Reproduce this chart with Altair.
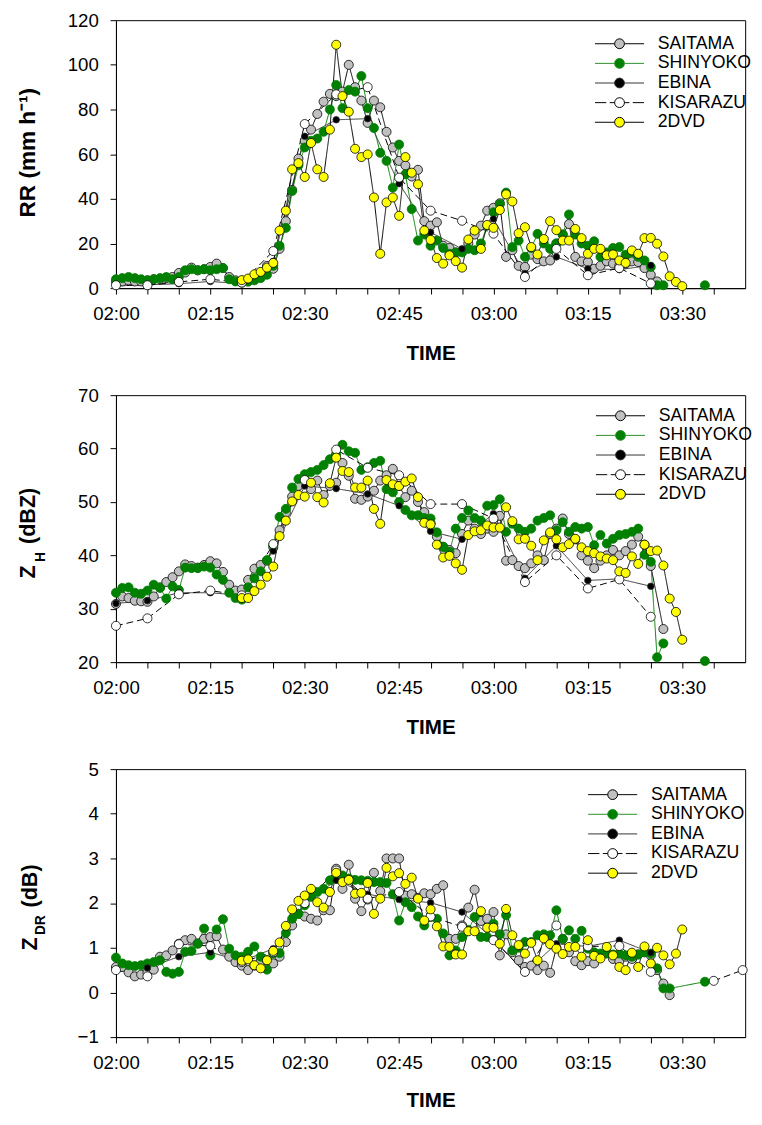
import altair as alt
import pandas as pd

FONT = "Liberation Sans, Arial, Helvetica, sans-serif"

SERIES = ["SAITAMA", "SHINYOKO", "EBINA", "KISARAZU", "2DVD"]
FILLS = ["#c0c0c0", "#008000", "#000000", "#ffffff", "#ffff00"]
STROKES = ["#000000", "#008000", "#333333", "#000000", "#000000"]
DASHES = [[1, 0], [1, 0], [1, 0], [7, 4], [1, 0]]

# times in minutes after 02:00
T5 = list(range(0, 86, 5))
SHINYOKO_LATE_T = [93.6]
KISARAZU_ZDR_T = T5 + [95, 99.6]

# ---------------- RR (mm h-1) ----------------
RR_SAITAMA = [3, 3, 3.5, 3, 3, 3.5, 4, 4, 4.5, 5,
              6.8, 7, 9.2, 8, 8.5, 9.5, 11, 9, 5, 3.5,
              3, 3, 4, 6, 10, 8.7, 17.6, 30, 44, 58,
              66, 71, 78, 83.5, 87, 86, 88, 100, 90, 84,
              74, 84, 81, 70, 63, 57, 55, 50, 53, 30,
              28, 29.5, 19, 18, 16, 16.6, 20, 24, 28, 34.7,
              36, 38, 14, 17, 10, 9.5, 15, 13, 12, 12.4,
              20, 24, 28.7, 14, 12, 11.7, 8.7, 10, 12, 11,
              10, 11, 12, 11.7, 9, 6, 3]
RR_SHINYOKO = [4, 4.5, 5, 4.5, 4, 3.5, 4, 4.5, 5, 4,
               5, 8, 8.5, 8, 8.5, 8, 8.5, 9, 4, 3,
               2.5, 3, 3.5, 4.5, 6, 10, 19, 27, 43.5, 55,
               63, 66, 67, 70, 80, 91, 80.6, 88.7, 88, 95,
               80.6, 71.7, 60.6, 57, 45, 64.3, 51, 35.4, 21.3, 24,
               19, 21.3, 18, 15.4, 16, 16, 17.6, 17, 20, 28,
               34, 37.6, 42.8, 18.4, 21.3, 14, 18, 24.3, 20, 17.6,
               20, 24, 33, 24, 20, 19, 21, 14, 16, 18,
               18.4, 15, 16, 14, 12.4, 9.5, 1.3, 1.3]
RR_SHINYOKO_LATE = [1.3]
RR_EBINA = [1, 1.5, 2, 3, 2, 12, 68, 75.4, 75.9, 46.8, 25, 17.6, 31, 6.5, 14, 8.7, 8.3, 10.2]
RR_KISARAZU = [1.3, 1.3, 2.8, 4, 2.5, 16.6, 73.5, 86.8, 90, 49.5, 34.7, 30.2, 24.4, 5, 17.6, 5.8, 9, 2.1]
RR_2DVD = [3.6, 4.3, 6.2, 7.3, 9.2, 11.3, 25.8, 34.7, 53.2, 56,
           49.8, 65, 53.2, 49.8, 71, 109, 86, 79, 62.4, 58.7,
           59.9, 40.6, 15.4, 38.4, 40.6, 32.4, 58.7, 51.7, 46.5, 25.8,
           21.6, 13.5, 11, 14.7, 12.1, 9.2, 21.8, 25.8, 17.6, 28.3,
           27, 35, 42, 38.8, 24.6, 27.3, 18.4, 15.1, 22, 30,
           26, 21.3, 21.3, 26.5, 22.4, 15.4, 17.6, 17.6, 14.7, 15.1,
           12.4, 11.3, 16.9, 15.4, 22.4, 22.5, 19.9, 14.2, 5.3, 2.8,
           0.9]

# ---------------- ZH (dBZ) ----------------
ZH_SAITAMA = [30.9, 32.3, 32, 31.5, 31.4, 31.3, 32.3, 34, 35, 35.9,
              37, 38.3, 38, 37.7, 38.2, 38.9, 38.5, 36.9, 34.5, 33.4,
              33.6, 35.4, 37.5, 38.2, 39, 41.5, 44.7, 48, 51, 53,
              54.3, 52.4, 54, 51.3, 53, 53.6, 57.3, 54.9, 50.6, 50.4,
              51, 52.1, 54, 55, 56.2, 53, 50.9, 52.1, 50, 48.1,
              46, 43.5, 41.6, 41, 40.4, 44, 46.5, 45, 44, 45,
              44.4, 47.4, 39, 39.1, 38, 37.6, 38.5, 40, 39.1, 44,
              45, 46.9, 44, 43, 40, 39, 37.6, 39, 40, 41,
              40, 40.8, 42, 43.5, 42, 38, None, 26.2]
ZH_SHINYOKO = [33, 33.9, 34, 33, 32.8, 33.4, 34.5, 33.9, 31.9, 34.2,
               33.5, 37.7, 37.6, 37.6, 37.9, 37.7, 36.4, 35.4, 33, 32,
               31.7, 34, 35.7, 37, 39.1, 41.9, 47.2, 48.7, 52.7, 54.3,
               55.2, 55.6, 56, 56.9, 58, 59, 60.7, 59.5, 59.2, 56,
               56.5, 57.3, 57.7, 52.4, 51.8, 50, 48.5, 47.5, 47.5, 47,
               46.9, 44.3, 41.6, 40.7, 45, 47, 48.4, 47, 46.5, 49.3,
               49.4, 50.5, 44.4, 45.9, 45, 44.4, 45, 46.5, 47, 47.5,
               44.7, 46.2, 44.4, 45.3, 45, 45.3, 41.9, 43.8, 42.2, 43.1,
               43.8, 44, 44.4, 45, 40.1, 38.8, 20.9, 23.5]
ZH_SHINYOKO_LATE = [20.2]
ZH_EBINA = [31, 31.5, 33, 33, 32.5, 40.8, 53, 52.5, 51.5, 49.3, 44.5, 43, 47.8, 35.7, 41.8, 35.3, 35.6, 34.2]
ZH_KISARAZU = [26.8, 28.2, 32.7, 33.4, 32.5, 42.1, 54.1, 59.8, 56.4, 55, 49.6, 49.6, 46.9, 35, 40, 33.8, 35.5, 28.5]
ZH_2DVD = [32, 32, 33.3, 34.5, 36, 37.9, 43.6, 46.5, 50.1, 51.3,
           51, 53.6, 50.9, 49.9, 53.5, 58.3, 55.8, 55.6, 52.7, 52.7,
           54, 48.7, 45.9, 54.1, 53.3, 53, 53.8, 54.4, 50.9, 46.1,
           45.8, 42, 39.6, 39.9, 38.5, 37.3, 43.8, 44.5, 44.7, 45.6,
           45.2, 45.2, 49, 46.4, 43, 43.1, 41.8, 39.1, 42.8, 44.3,
           43, 41.5, 42.1, 43.1, 41.5, 40.8, 40.4, 39.8, 39.4, 39.1,
           37, 36.7, 39.8, 38.4, 42, 40.8, 40.9, 38.1, 31.9, 29.4,
           24.2]

# ---------------- ZDR (dB) ----------------
ZDR_SAITAMA = [0.57, 0.57, 0.45, 0.36, 0.4, 0.45, 0.51, 0.8, 0.83, 0.94,
               1.09, 1.17, 1.2, 1.1, 1.2, 1.24, 1.26, 0.96, 0.8, 0.68,
               0.6, 0.5, 0.6, 0.7, 0.72, 0.65, 0.8, 1.13, 1.5, 1.76,
               1.7, 1.65, 1.61, 1.84, 1.84, 2.77, 2.32, 2.86, 2.1, 1.82,
               2.08, 2.68, 2.27, 3.0, 3.0, 3.0, 2.17, 2.2, 2.12, 2.22,
               2.2, 2.32, 2.4, 1.2, 1.2, 1.5, 1.9, 2.3, 1.6, 1.65,
               1.8, 0.83, 1.3, 0.9, 0.72, 0.57, 0.6, 0.5, 0.6, 0.44,
               1.0, 1.2, 0.9, 0.7, 0.61, 0.7, 0.65, 0.8, 0.9, 0.75,
               0.7, 0.8, 0.75, 0.85, 0.9, 0.83, 0.5, 0.2, -0.06]
ZDR_SHINYOKO = [0.78, 0.65, 0.61, 0.59, 0.61, 0.65, 0.68, 0.72, 0.46, 0.42,
                0.46, 0.91, 0.93, 1.09, 1.43, 0.83, 1.41, 1.64, 0.98, 0.83,
                0.8, 0.91, 1.03, 0.8, 0.51, 0.87, 0.88, 1.33, 1.65, 1.76,
                1.95, 2.14, 2.25, 2.32, 2.51, 2.55, 2.62, 2.55, 2.52, 2.51,
                2.5, 2.47, 2.47, 2.45, 2.2, 1.61, 2.02, 1.91, 1.7, 1.5,
                1.69, 1.65, 1.32, 0.83, 0.94, 1.24, 1.4, 1.69, 1.24, 1.24,
                1.54, 1.3, 1.73, 0.94, 1.0, 1.13, 1.13, 1.28, 1.3, 1.28,
                1.84, 1.2, 1.39, 1.2, 1.38, 0.98, 0.9, 0.87, 0.87, 0.85,
                0.87, 0.83, 0.8, 0.85, 0.9, 0.87, 0.54, 0.09, 0.09]
ZDR_SHINYOKO_LATE = [0.24]
ZDR_EBINA = [0.5, 0.55, 0.8, 0.9, 0.7, 0.98, 2.0, 2.51, 2.2, 2.08, 2.01, 1.8, 1.2, 0.44, 1.09, 1.03, 1.17, 0.89]
ZDR_KISARAZU = [0.5, 0.36, 1.08, 1.04, 0.68, 0.9, 2.0, 2.73, 2.1, 2.25, 1.7, 1.47, 1.17, 0.46, 1.5, 1.03, 1.04, 0.46,
                0.26, 0.5]
ZDR_2DVD = [0.71, 0.74, 0.61, 0.54, 0.72, 0.93, 1.12, 1.49, 1.86, 2.05,
            2.17, 2.32, 2.02, 1.9, 2.25, 2.68, 2.47, 2.52, 2.21, 2.23,
            2.45, 1.76, 2.1, 2.79, 2.6, 2.67, 2.43, 2.57, 2.1, 1.61,
            1.86, 1.48, 1.03, 1.02, 0.85, 0.85, 1.37, 1.37, 1.82, 1.45,
            1.45, 1.09, 1.87, 1.28, 1.06, 0.87, 1.11, 0.72, 1.21, 1.08,
            0.98, 0.86, 1.02, 1.02, 0.8, 1.17, 0.82, 0.76, 1.02, 0.83,
            0.57, 0.5, 0.89, 0.57, 1.03, 0.65, 1.0, 0.83, 0.63, 0.87,
            1.41]


def one_min(start, values):
    return [start + i for i in range(len(values))]


def rows(series, times, values, order):
    out = []
    seg = 0
    prev = None
    for t, v in zip(times, values):
        if v is None:
            continue
        if prev is not None and t - prev > 6:
            seg += 1
        out.append({"t": t, "v": v, "series": series, "seg": f"{series}-{seg}", "k": order})
        prev = t
    return out


def build(sai, shi, shi_late, ebi, kis, kis_t, dvd):
    r = []
    r += rows("SAITAMA", one_min(0, sai), sai, 0)
    r += rows("SHINYOKO", one_min(0, shi) + SHINYOKO_LATE_T, shi + shi_late, 1)
    r += rows("EBINA", T5, ebi, 2)
    r += rows("KISARAZU", kis_t, kis, 3)
    r += rows("2DVD", one_min(20, dvd), dvd, 4)
    return pd.DataFrame(r)


SOLID = "M-5,0L-1,0M1,0L5,0M1,0A1,1,0,1,1,-1,0A1,1,0,1,1,1,0Z"
DASHED = "M-5,0L-2.7,0M-2,0L-1,0M1,0L2,0M2.7,0L5,0M1,0A1,1,0,1,1,-1,0A1,1,0,1,1,1,0Z"

X_LABEL = ("datum.value % 15 === 0 ? ('0' + (2 + floor(datum.value / 60)) + ':' + "
           "(datum.value % 60 < 10 ? '0' : '') + (datum.value % 60)) : ''")

# stroke scales use the series in reverse order so that their (hidden) legends
# are not merged with the fill legend
SERIES_R = SERIES[::-1]
STROKES_R = STROKES[::-1]
DASHES_R = DASHES[::-1]


def title_layer(text, dx, dy, size):
    return alt.Chart(alt.Data(values=[{"label": text}])).mark_text(
        angle=270, font=FONT, fontSize=size, fontWeight="bold",
        align="center", baseline="middle", color="black"
    ).encode(text="label:N", x=alt.value(dx), y=alt.value(dy))


def panel(df, ydom, yvals, height, titles, lx, ly, title_pad):
    x = alt.X("t:Q", scale=alt.Scale(domain=[0, 100], nice=False, zero=False),
              axis=alt.Axis(values=list(range(0, 100, 5)), labelExpr=X_LABEL, title="TIME",
                            labelFontSize=19, titleFontSize=21, titleFontWeight="bold",
                            labelPadding=11, titlePadding=title_pad, tickSize=6, labelFlush=False,
                            labelOverlap=False))
    y = alt.Y("v:Q", scale=alt.Scale(domain=ydom, nice=False, zero=False),
              axis=alt.Axis(values=yvals, title=None, labelFontSize=19, labelPadding=12,
                            tickSize=6, labelFlush=False))
    base = alt.Chart(df)
    stroke = alt.Stroke("series:N", scale=alt.Scale(domain=SERIES_R, range=STROKES_R), legend=None)
    lines = base.mark_line(strokeWidth=1).encode(
        x=x, y=y, stroke=stroke,
        strokeDash=alt.StrokeDash("series:N", scale=alt.Scale(domain=SERIES_R, range=DASHES_R), legend=None),
        detail="seg:N",
    )
    legend = alt.Legend(
        title=None, orient="none", legendX=lx, legendY=ly,
        labelFont=FONT, labelFontSize=18, labelColor="black", labelOffset=30,
        symbolSize=100, symbolStrokeWidth=1, rowPadding=2, labelLimit=300,
        symbolType=alt.ExprRef(expr=f"datum.value === 'KISARAZU' ? '{DASHED}' : '{SOLID}'"),
        symbolStrokeColor=alt.ExprRef(
            expr="datum.value === 'SHINYOKO' ? '#2a8f2a' : (datum.value === 'EBINA' ? '#333333' : '#000000')"),
    )
    points = base.mark_point(shape="circle", filled=True, opacity=1, strokeWidth=0.8).encode(
        x=x, y=y,
        fill=alt.Fill("series:N", scale=alt.Scale(domain=SERIES, range=FILLS), legend=legend),
        stroke=stroke,
        size=alt.condition("datum.series === 'EBINA'", alt.value(45), alt.value(85)),
    )
    layers = [lines, points] + [title_layer(*t) for t in titles]
    return alt.layer(*layers).properties(width=641, height=height)


df_rr = build(RR_SAITAMA, RR_SHINYOKO, RR_SHINYOKO_LATE, RR_EBINA, RR_KISARAZU, T5, RR_2DVD)
df_zh = build(ZH_SAITAMA, ZH_SHINYOKO, ZH_SHINYOKO_LATE, ZH_EBINA, ZH_KISARAZU, T5, ZH_2DVD)
df_zdr = build(ZDR_SAITAMA, ZDR_SHINYOKO, ZDR_SHINYOKO_LATE, ZDR_EBINA, ZDR_KISARAZU, KISARAZU_ZDR_T, ZDR_2DVD)

p1 = panel(df_rr, [0, 120], list(range(0, 121, 20)), 273,
           [("RR (mm h\u207b\u00b9)", -89, 135, 23)], 504, 15, 20)
p2 = panel(df_zh, [20, 70], list(range(20, 71, 10)), 272,
           [("Z", -89, 180, 22), ("H", -76, 165, 14), ("(dBZ)", -89, 123, 22)], 505, 12, 20)
p3 = panel(df_zdr, [-1, 5], list(range(-1, 6)), 273,
           [("Z", -87, 178, 22), ("DR", -76, 159, 14), ("(dB)", -87, 119, 22)], 497, 17, 18)

chart = alt.vconcat(p1, p2, p3, spacing=109, bounds="flush").resolve_scale(
    fill="independent", stroke="independent", strokeDash="independent"
).resolve_legend(
    fill="independent", stroke="independent", strokeDash="independent"
).properties(
    padding={"left": 9, "top": -8, "right": 0, "bottom": -4}
).configure_view(stroke="black", strokeWidth=1).configure_axis(
    labelFont=FONT, titleFont=FONT, labelColor="black", titleColor="black",
    domainColor="black", tickColor="black", grid=False, domainWidth=1, tickWidth=1
)

chart.save("out.html", embed_options={"renderer": "svg", "actions": False})
